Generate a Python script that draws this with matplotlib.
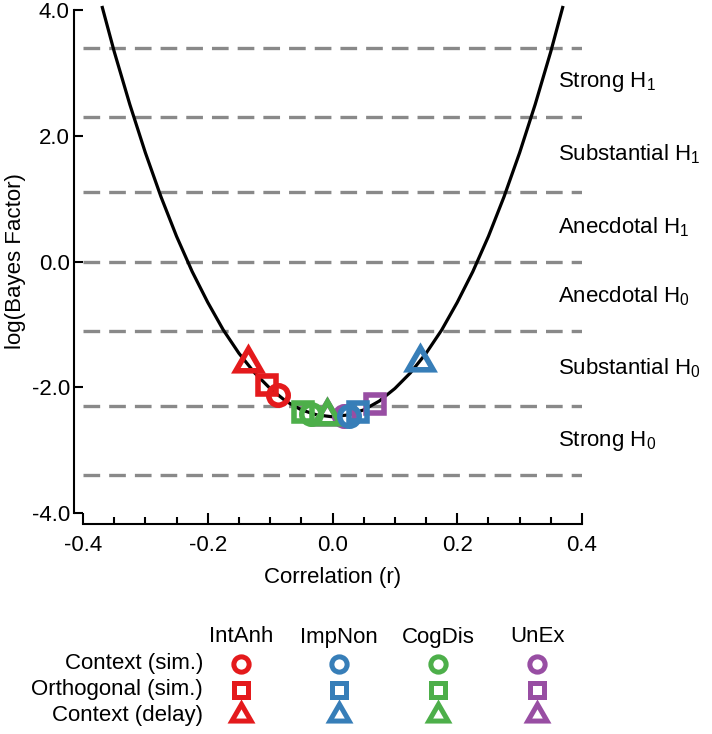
import matplotlib
matplotlib.use('Agg')
import matplotlib.pyplot as plt
from matplotlib.ticker import MultipleLocator, FormatStrFormatter

plt.rcParams['font.family'] = ['Liberation Sans', 'DejaVu Sans']
plt.rcParams['mathtext.default'] = 'regular'
plt.rcParams['axes.unicode_minus'] = False
plt.rcParams['lines.scale_dashes'] = False

# curve: correlation vs log(BF)
curve_r = [-0.369, -0.35, -0.325, -0.3, -0.275, -0.25, -0.225, -0.2, -0.175,
           -0.15, -0.125, -0.1, -0.075, -0.05, -0.025, 0.0,
           0.025, 0.05, 0.075, 0.1, 0.125, 0.15, 0.175, 0.2, 0.225,
           0.25, 0.275, 0.3, 0.325, 0.35, 0.369]
curve_logbf = [4.04, 3.34, 2.50, 1.73, 1.03, 0.40, -0.16, -0.65, -1.09,
               -1.46, -1.77, -2.02, -2.22, -2.36, -2.44, -2.47,
               -2.44, -2.36, -2.22, -2.02, -1.77, -1.46, -1.09, -0.65, -0.16,
               0.40, 1.03, 1.73, 2.50, 3.34, 4.04]

# evidence thresholds: log(30), log(10), log(3), 0, ...
thresholds = [3.401, 2.303, 1.099, 0.0, -1.099, -2.303, -3.401]
band_labels = ['Strong H$_1$', 'Substantial H$_1$', 'Anecdotal H$_1$',
               'Anecdotal H$_0$', 'Substantial H$_0$', 'Strong H$_0$']
band_mid = [2.85, 1.70, 0.55, -0.55, -1.70, -2.85]

groups = ['IntAnh', 'ImpNon', 'CogDis', 'UnEx']
colors = ['#E41A1C', '#377EB8', '#4DAF4A', '#984EA3']
conditions = ['Context (sim.)', 'Orthogonal (sim.)', 'Context (delay)']

# per group: [context sim, orthogonal sim, context delay]
intanh_r = [-0.087, -0.105, -0.135]
intanh_bf = [-2.13, -1.96, -1.62]
impnon_r = [0.026, 0.041, 0.140]
impnon_bf = [-2.45, -2.40, -1.60]
cogdis_r = [-0.035, -0.048, -0.009]
cogdis_bf = [-2.42, -2.39, -2.45]
unex_r = [0.019, 0.068, -0.009]
unex_bf = [-2.46, -2.27, -2.45]

group_r = [intanh_r, impnon_r, cogdis_r, unex_r]
group_bf = [intanh_bf, impnon_bf, cogdis_bf, unex_bf]

markers = ['o', 's', (3, 0, 0)]
main_ms = [14, 13, 21]
leg_ms = [11, 10.5, 16]

fig = plt.figure(figsize=(7.12, 7.34), dpi=100)
ax = fig.add_axes([83 / 712, 1 - 513 / 734, 499 / 712, 503 / 734])

for y in thresholds:
    ax.axhline(y, color='#898989', lw=2.4, dashes=(12, 6.5), zorder=1)

ax.plot(curve_r, curve_logbf, color='black', lw=2.3, clip_on=False, zorder=3)

for gi in reversed(range(len(groups))):
    for ci in range(len(conditions)):
        ax.plot(group_r[gi][ci], group_bf[gi][ci], linestyle='none',
                marker=markers[ci], ms=main_ms[ci], mfc='none',
                mec=colors[gi], mew=4, clip_on=False, zorder=4)

for lab, y in zip(band_labels, band_mid):
    ax.text(0.3615, y, lab, fontsize=16, ha='left', va='center', clip_on=False)

ax.set_xlim(-0.4, 0.4)
ax.set_ylim(-4, 4)
ax.set_xticks([-0.4, -0.2, 0.0, 0.2, 0.4])
ax.xaxis.set_minor_locator(MultipleLocator(0.05))
ax.set_yticks([-4, -2, 0, 2, 4])
ax.xaxis.set_major_formatter(FormatStrFormatter('%.1f'))
ax.yaxis.set_major_formatter(FormatStrFormatter('%.1f'))

ax.spines['top'].set_visible(False)
ax.spines['right'].set_visible(False)
ax.spines['left'].set_position(('outward', 6.5))
ax.spines['bottom'].set_position(('outward', 8))
ax.spines['left'].set_linewidth(1.5)
ax.spines['bottom'].set_linewidth(1.5)

ax.tick_params(axis='x', which='major', direction='in', length=8, width=1.5,
               labelsize=16, pad=8)
ax.tick_params(axis='x', which='minor', direction='in', length=5, width=1.5)
ax.tick_params(axis='y', which='major', direction='in', length=6.5, width=1.5,
               labelsize=16, pad=3)

ax.set_xlabel('Correlation (r)', fontsize=16, labelpad=8)
ax.set_ylabel('log(Bayes Factor)', fontsize=16, labelpad=4)

# legend grid drawn by hand, in pixel coordinates
leg = fig.add_axes([0, 0, 1, 1])
leg.set_xlim(0, 712)
leg.set_ylim(734, 0)
leg.axis('off')

col_x = [241, 339, 438, 537]
row_y = [664, 690, 715]
header_y = 637

for gi, g in enumerate(groups):
    leg.text(col_x[gi], header_y, g, fontsize=16, ha='center', va='center')
    for ci in range(len(conditions)):
        leg.plot(col_x[gi], row_y[ci], linestyle='none', marker=markers[ci],
                 ms=leg_ms[ci], mfc='none', mec=colors[gi], mew=3.6)

for ci, c in enumerate(conditions):
    leg.text(203, row_y[ci], c, fontsize=16, ha='right', va='center')

fig.savefig('out.png', dpi=100)
